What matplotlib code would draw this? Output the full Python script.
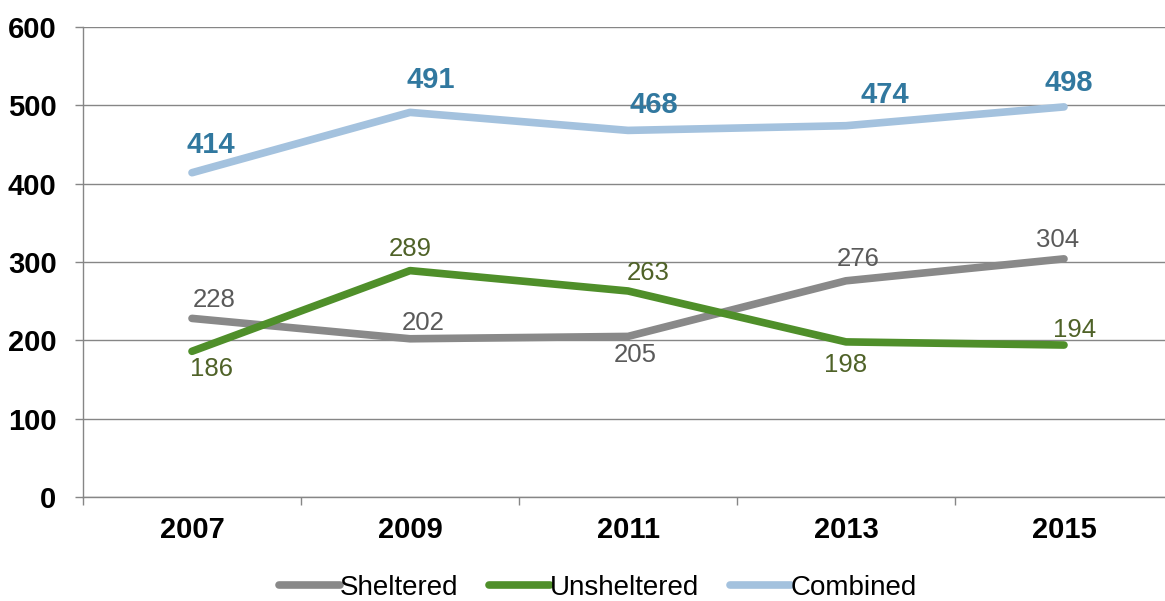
import numpy as np
import matplotlib
matplotlib.use("Agg")
import matplotlib.pyplot as plt

years = ["2007", "2009", "2011", "2013", "2015"]
sheltered = [228, 202, 205, 276, 304]
unsheltered = [186, 289, 263, 198, 194]
combined = [414, 491, 468, 474, 498]

font = "Liberation Sans"

fig = plt.figure(figsize=(11.65, 6.01), dpi=100)
ax = fig.add_axes([83 / 1165, 1 - 497 / 601, 1090 / 1165, 470 / 601])

x = np.arange(len(years))
grey = "#898989"
green = "#4f8f2a"
blue = "#a4c2de"

ax.plot(x, sheltered, color=grey, lw=5.5, solid_capstyle="round", solid_joinstyle="round", label="Sheltered", zorder=3)
ax.plot(x, unsheltered, color=green, lw=5.5, solid_capstyle="round", solid_joinstyle="round", label="Unsheltered", zorder=4)
ax.plot(x, combined, color=blue, lw=5.5, solid_capstyle="round", solid_joinstyle="round", label="Combined", zorder=3)

# label offsets in pixels (dx, dy up)
off_c = [(19, 28), (21, 32), (26, 25), (39, 31), (5, 24)]
off_s = [(22, 18), (13, 16), (7, -19), (12, 22), (-6, 19)]
off_u = [(20, -18), (0, 22), (20, 18), (0, -23), (11, 15)]

for i in range(len(years)):
    ax.annotate(str(combined[i]), (x[i], combined[i]), xytext=(off_c[i][0] * 0.72, off_c[i][1] * 0.72),
                textcoords="offset points", ha="center", va="center", fontsize=21,
                fontweight="bold", color="#31789f", family=font)
    ax.annotate(str(sheltered[i]), (x[i], sheltered[i]), xytext=(off_s[i][0] * 0.72, off_s[i][1] * 0.72),
                textcoords="offset points", ha="center", va="center", fontsize=18.5,
                color="#5a5a5a", family=font)
    ax.annotate(str(unsheltered[i]), (x[i], unsheltered[i]), xytext=(off_u[i][0] * 0.72, off_u[i][1] * 0.72),
                textcoords="offset points", ha="center", va="center", fontsize=18.5,
                color="#4f6228", family=font)

ax.set_xlim(-0.5, len(years) - 0.5)
ax.set_ylim(0, 600)
ax.set_yticks(np.arange(0, 601, 100))
ax.set_xticks(x)
ax.set_xticklabels(years)
ax.set_xticks(np.arange(-0.5, len(years), 1), minor=True)

for lab in ax.get_yticklabels():
    lab.set_fontsize(21)
    lab.set_fontweight("bold")
    lab.set_family(font)
for lab in ax.get_xticklabels():
    lab.set_fontsize(21)
    lab.set_fontweight("bold")
    lab.set_family(font)

ax.tick_params(axis="x", which="major", length=0, pad=14)
ax.tick_params(axis="x", which="minor", length=6, color="#868686", width=1)
ax.tick_params(axis="y", length=6, color="#868686", width=1, pad=13)

ax.grid(axis="y", color="#868686", lw=1)
ax.set_axisbelow(True)
for s in ["top", "right"]:
    ax.spines[s].set_visible(False)
for s in ["left", "bottom"]:
    ax.spines[s].set_color("#868686")
    ax.spines[s].set_linewidth(1)

ax.legend(loc="center", bbox_to_anchor=(598 / 1165, 1 - 588 / 601), bbox_transform=fig.transFigure,
          ncol=3, frameon=False, handlelength=2.2, handletextpad=0.0, columnspacing=1.1,
          prop={"family": font, "size": 20})

fig.savefig("out.png", dpi=100)
